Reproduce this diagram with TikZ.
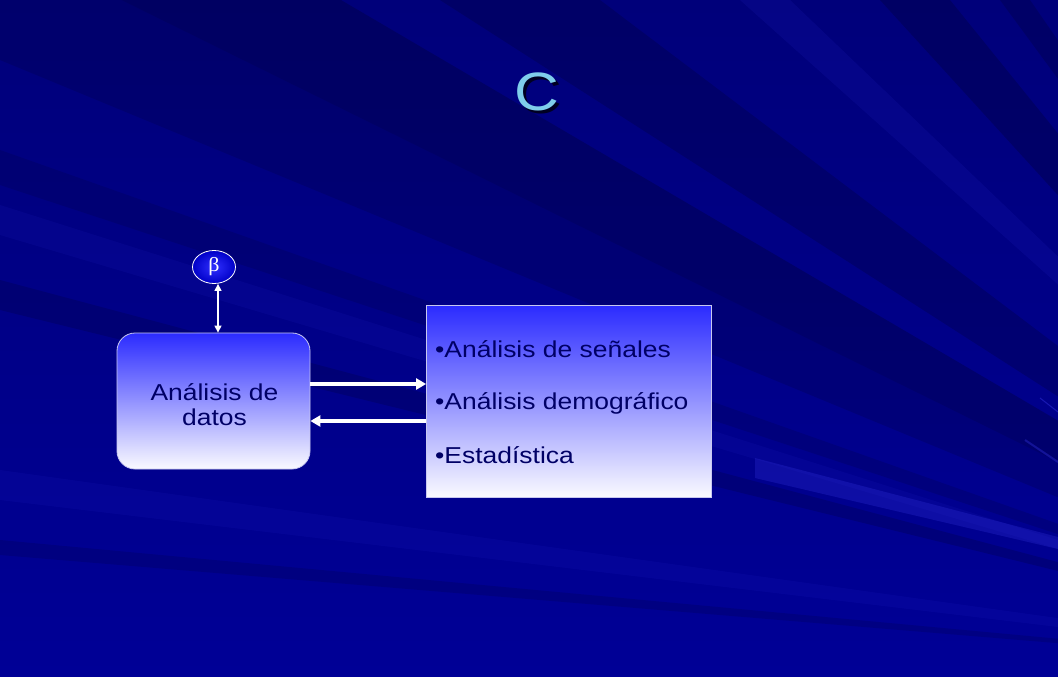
\documentclass[tikz,border=0pt]{standalone}
\usepackage{fontspec}
\setmainfont{Liberation Sans}[FakeStretch=1.15]
\newfontfamily\betafont{Liberation Serif}[FakeStretch=1.1]
\usetikzlibrary{calc,arrows.meta,shapes.geometric}

\definecolor{bgtop}{HTML}{00007A}
\definecolor{bgbot}{HTML}{000096}
\definecolor{raydark}{HTML}{00003C}
\definecolor{raylight}{HTML}{3030D8}
\definecolor{boxtop}{HTML}{2B2BFF}
\definecolor{boxbot}{HTML}{FAFAFF}
\definecolor{boxline}{HTML}{C8C8F0}
\definecolor{ink}{HTML}{000066}
\definecolor{titlecol}{HTML}{7FCDEB}
\definecolor{shadowcol}{HTML}{000022}
\definecolor{betain}{HTML}{3030FF}
\definecolor{betaout}{HTML}{0000C8}

\tikzset{
  slidebox/.style={draw=boxline, line width=0.8bp, top color=boxtop, bottom color=boxbot, inner sep=0pt},
  roundbox/.style={slidebox, rounded corners=18bp, minimum width=193bp, minimum height=136bp},
  boxtext/.style={align=center, inner sep=0pt, text=ink, font=\fontsize{23bp}{25bp}\selectfont},
  listbox/.style={slidebox, minimum width=285bp, minimum height=192bp},
  listitem/.style={anchor=base west, inner sep=0pt, text=ink, font=\fontsize{23bp}{27bp}\selectfont},
  titletext/.style={font=\fontsize{54bp}{54bp}\selectfont},
  link/.style={white, line width=3.5bp, -{Triangle[length=10bp,width=11bp]}},
  tie/.style={white, line width=1.2bp, {Triangle[length=7bp,width=7bp]}-{Triangle[length=7bp,width=7bp]}},
  darkray/.style={raydark, opacity=#1},
  lightray/.style={raylight, opacity=#1},
}

% wedge from the focal point through two points, extended past the frame
\newcommand{\raywedge}[3]{\fill[#3] (F) -- ($(F)!4!(#1)$) -- ($(F)!4!(#2)$) -- cycle;}

\begin{document}
\begin{tikzpicture}[x=1bp,y=-1bp]
\useasboundingbox (0,0) rectangle (1058,677);

% background with rays fanning out from the right
\begin{scope}
  \clip (0,0) rectangle (1058,677);
  \shade[top color=bgtop, bottom color=bgbot] (0,0) rectangle (1058,677);
  \coordinate (F) at (1500,680);
  \raywedge{0,-200}{0,60}{darkray=0.22}
  \raywedge{0,-200}{0,-60}{darkray=0.2}
  \raywedge{440,0}{600,0}{darkray=0.3}
  \raywedge{880,0}{950,0}{darkray=0.35}
  \raywedge{1000,0}{1030,0}{darkray=0.3}
  \raywedge{0,150}{0,185}{darkray=0.2}
  \raywedge{0,280}{0,310}{darkray=0.25}
  \raywedge{0,540}{0,555}{darkray=0.2}
  \raywedge{0,205}{0,235}{lightray=0.1}
  \raywedge{0,470}{0,500}{lightray=0.1}
  \raywedge{740,0}{790,0}{lightray=0.12}
  % bright streak at the lower right
  \fill[raylight, opacity=0.3] (755,458) -- (1058,537) -- (1058,549) -- (755,478) -- cycle;
  \draw[raylight, opacity=0.5, line width=1bp] (1040,398) -- (1058,412);
  \draw[raylight, opacity=0.4, line width=2bp] (1025,440) -- (1058,462);
\end{scope}

% title with its drop shadow
\node[titletext, text=shadowcol] (titleshadow) at (539.5,94.5) {C};
\node[titletext, text=titlecol] (title) at (537,92) {C};

% boxes
\node[roundbox] (datos) at (213.5,401) {};
\node[boxtext] (datoslabel) at (214.5,404.5) {Análisis de\\datos};
\node[listbox] (tecnicas) at (569,401) {};
\node[listitem] (item1) at (435,357) {\textbullet Análisis de señales};
\node[listitem] (item2) at (435,409) {\textbullet Análisis demográfico};
\node[listitem] (item3) at (435,463) {\textbullet Estadística};

% beta bubble
\node[ellipse, minimum width=43bp, minimum height=33bp, inner sep=0pt, draw=white, line width=0.8bp,
  inner color=betain, outer color=betaout, text=white,
  font=\betafont\fontsize{20bp}{20bp}\selectfont] (beta) at (214,267) {β};

% connectors
\coordinate (upper) at (0,384);
\coordinate (lower) at (0,421);
\draw[tie] ([xshift=4bp]beta.south) -- ([xshift=4bp]beta.south |- datos.north);
\draw[link] (datos.east |- upper) -- (tecnicas.west |- upper);
\draw[link] (tecnicas.west |- lower) -- (datos.east |- lower);
\end{tikzpicture}
\end{document}
